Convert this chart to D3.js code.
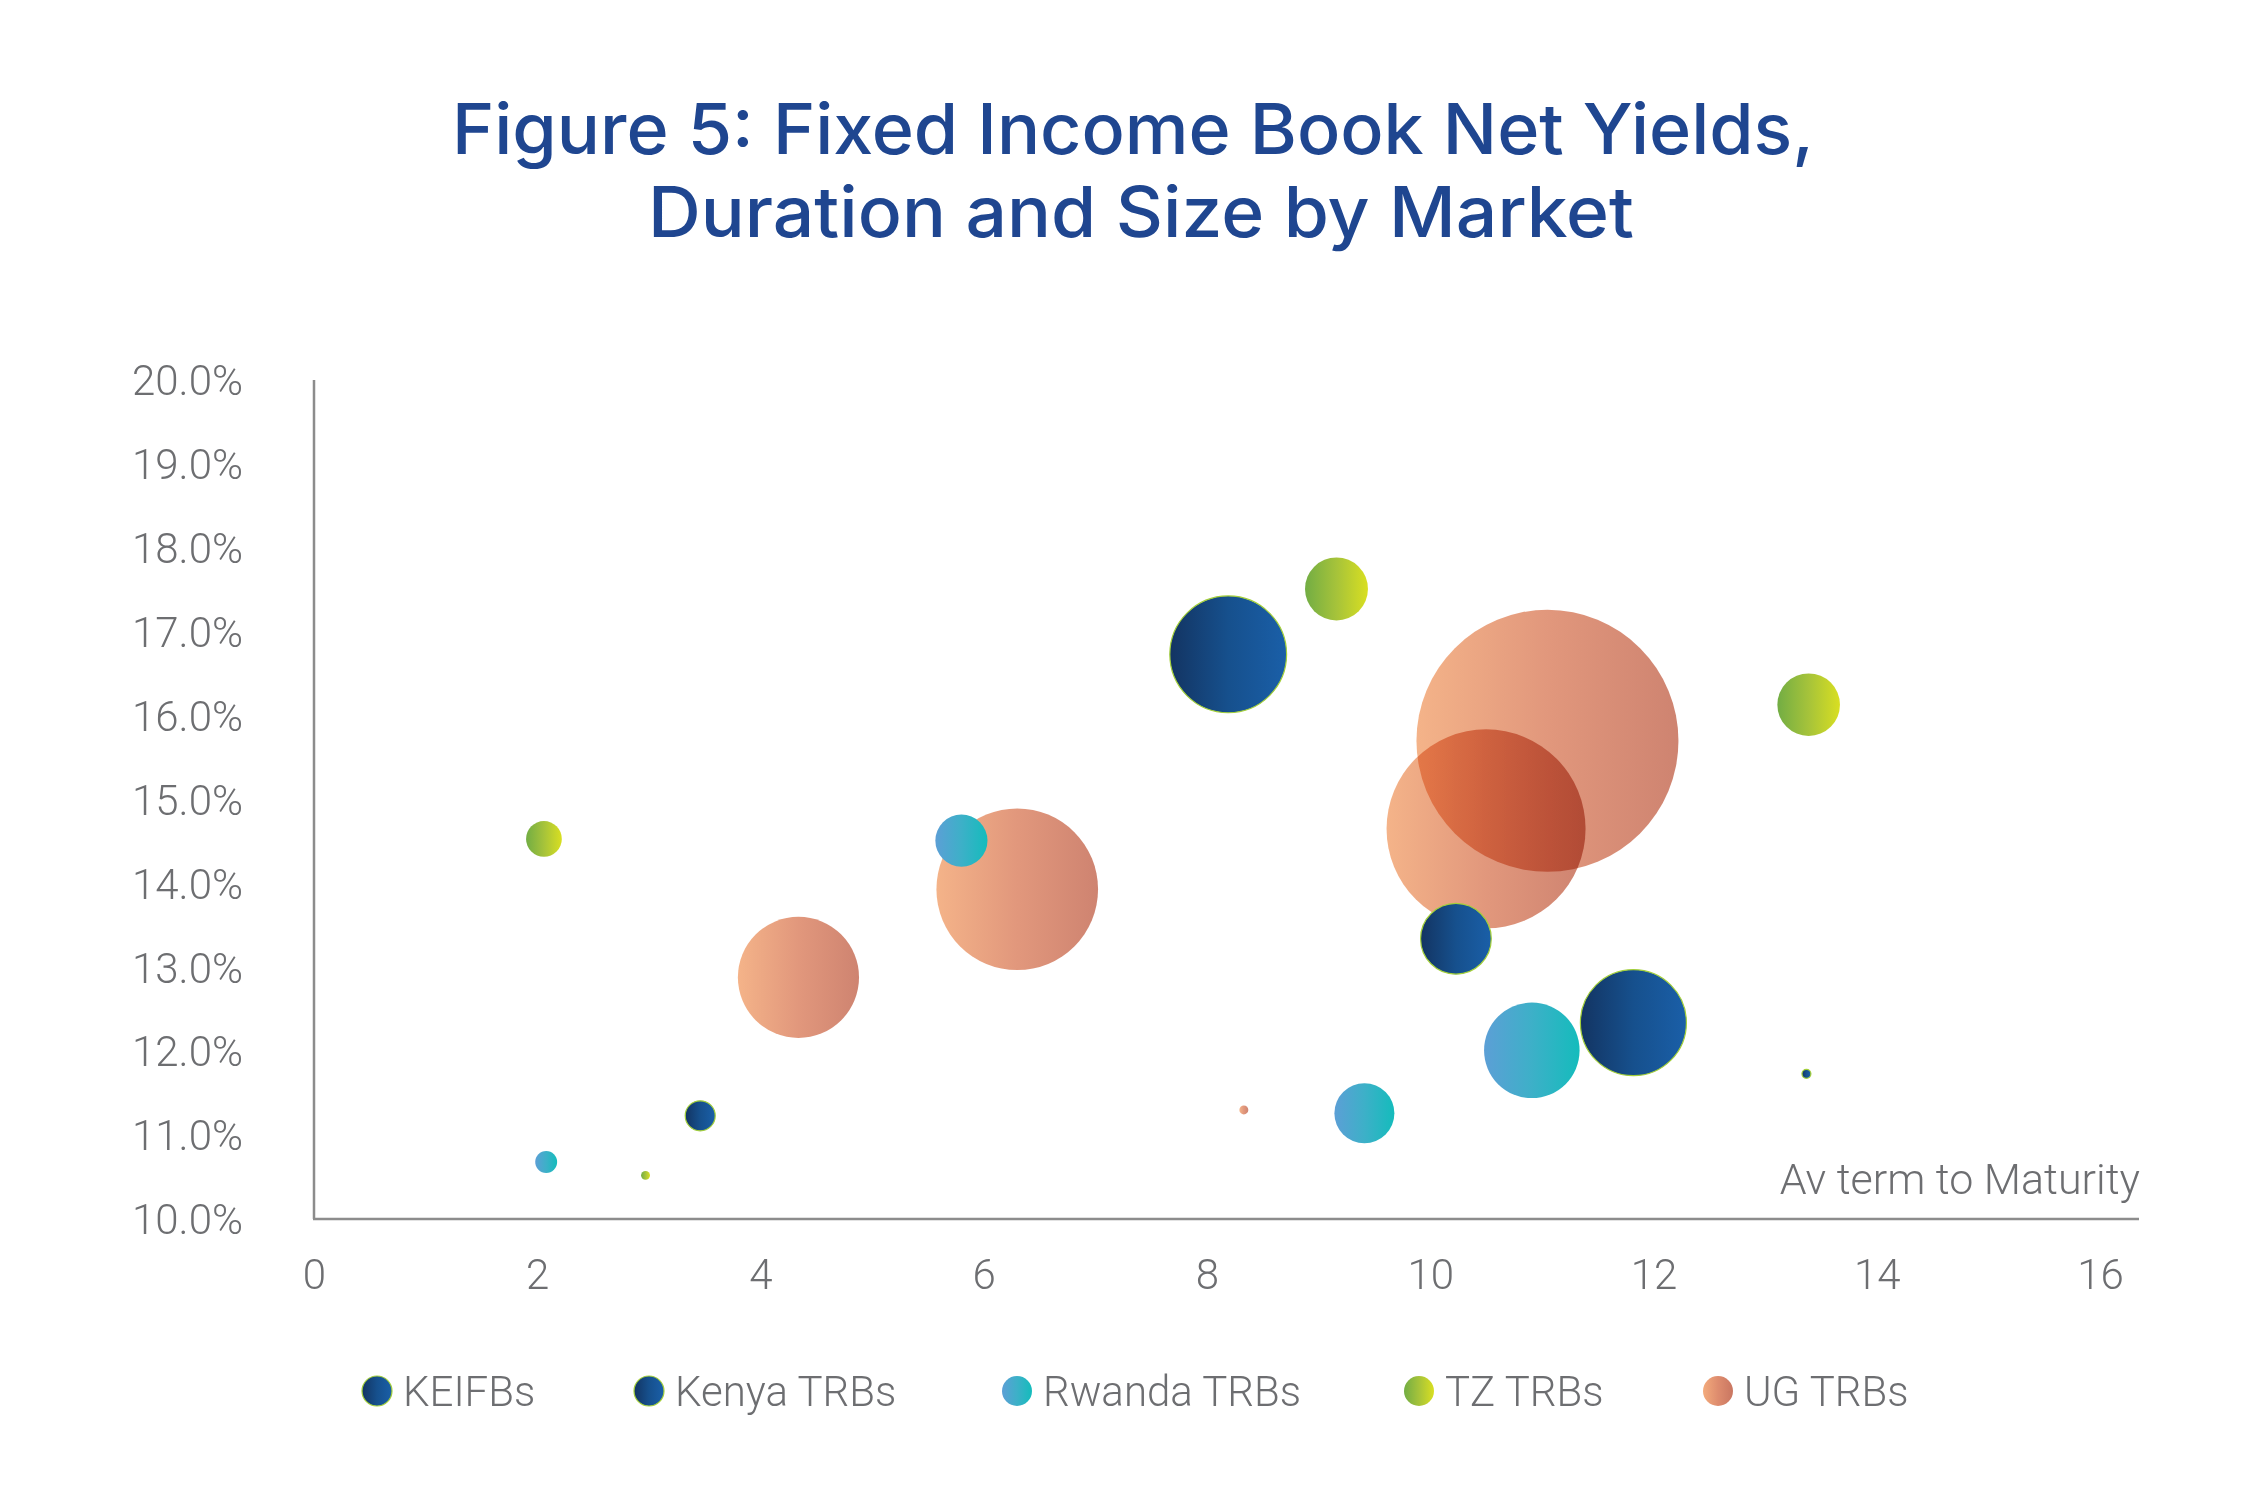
<!DOCTYPE html>
<html>
<head>
<meta charset="utf-8">
<script src="https://cdn.jsdelivr.net/npm/d3@7"></script>
<style>
  html, body { margin: 0; padding: 0; background: #ffffff; }
  svg { display: block; }
</style>
</head>
<body>
<svg id="chart" width="2268" height="1502"></svg>
<script>
// ---------------- DATA ----------------
const titleLines = ["Figure 5: Fixed Income Book Net Yields,", "Duration and Size by Market"];
const seriesNames = ["KEIFBs", "Kenya TRBs", "Rwanda TRBs", "TZ TRBs", "UG TRBs"];
const xTicks = [0, 2, 4, 6, 8, 10, 12, 14, 16];
const yTicks = [10, 11, 12, 13, 14, 15, 16, 17, 18, 19, 20];
const xAxisTitle = "Av term to Maturity";

// term to maturity (years), net yield (%), relative book size
const keifbTerm   = [8.19, 10.23, 11.82];
const keifbYield  = [16.73, 13.34, 12.34];
const keifbSize   = [34.1, 12.5, 28.1];

const kenyaTerm   = [3.46, 13.37];
const kenyaYield  = [11.23, 11.73];
const kenyaSize   = [2.25, 0.2];

const rwandaTerm  = [5.80, 10.91, 9.41, 2.08];
const rwandaYield = [14.51, 12.01, 11.26, 10.68];
const rwandaSize  = [6.8, 22.8, 9.0, 1.2];

const tzTerm      = [9.16, 13.39, 2.06, 2.97];
const tzYield     = [17.51, 16.13, 14.53, 10.52];
const tzSize      = [9.9, 9.8, 3.2, 0.2];

const ugTerm      = [11.05, 10.50, 6.30, 4.34, 8.33];
const ugYield     = [15.70, 14.65, 13.93, 12.88, 11.30];
const ugSize      = [171.6, 99.0, 65.3, 36.7, 0.2];

// ---------------- STYLE ----------------
const gradStops = {
  "KEIFBs":      ["#133462", "#16508d", "#1a5fa8"],
  "Kenya TRBs":  ["#133462", "#16508d", "#1a5fa8"],
  "Rwanda TRBs": ["#5c9fd6", "#3db0c8", "#14bcbc"],
  "TZ TRBs":     ["#72ad44", "#a6c33a", "#d9df21"],
  "UG TRBs":     ["#f3ab7c", "#de8c6e", "#c97661"]
};
const strokeCol = { "KEIFBs": "#a3cf3a", "Kenya TRBs": "#a3cf3a" };

const series = [
  { name: "KEIFBs",      term: keifbTerm,  yld: keifbYield,  size: keifbSize },
  { name: "Kenya TRBs",  term: kenyaTerm,  yld: kenyaYield,  size: kenyaSize },
  { name: "Rwanda TRBs", term: rwandaTerm, yld: rwandaYield, size: rwandaSize },
  { name: "TZ TRBs",     term: tzTerm,     yld: tzYield,     size: tzSize },
  { name: "UG TRBs",     term: ugTerm,     yld: ugYield,     size: ugSize }
];

const textGray = "#6d6e71";
const font = "Roboto, 'Open Sans', sans-serif";
const fw = 300;

const svg = d3.select("#chart");
const defs = svg.append("defs");

seriesNames.forEach((n, i) => {
  const g = defs.append("linearGradient").attr("id", "grad" + i)
    .attr("x1", "0").attr("y1", "0").attr("x2", "1").attr("y2", "0");
  const st = gradStops[n];
  st.forEach((c, j) => g.append("stop").attr("offset", j / (st.length - 1)).attr("stop-color", c));
});

// ---------------- SCALES ----------------
const x = d3.scaleLinear().domain([0, 16]).range([314, 2100]);
const y = d3.scaleLinear().domain([10, 20]).range([1219, 380]);
const maxSize = d3.max(series.flatMap(s => s.size));
const r = d3.scaleSqrt().domain([0, maxSize]).range([0, 131]);

// ---------------- TITLE ----------------
svg.append("text")
  .attr("x", 452).attr("y", 154)
  .attr("textLength", 1362).attr("lengthAdjust", "spacingAndGlyphs")
  .style("font-family", "Inter, 'Open Sans', sans-serif").style("font-weight", 500)
  .style("font-size", "70px").style("fill", "#1f4690")
  .text(titleLines[0]);
svg.append("text")
  .attr("x", 648).attr("y", 237)
  .attr("textLength", 986).attr("lengthAdjust", "spacingAndGlyphs")
  .style("font-family", "Inter, 'Open Sans', sans-serif").style("font-weight", 500)
  .style("font-size", "70px").style("fill", "#1f4690")
  .text(titleLines[1]);

// ---------------- AXES ----------------
const axisCol = "#8c8c8c";
svg.append("line").attr("x1", 314).attr("x2", 314).attr("y1", 380).attr("y2", 1219)
  .attr("stroke", axisCol).attr("stroke-width", 2.5);
svg.append("line").attr("x1", 313).attr("x2", 2139).attr("y1", 1219).attr("y2", 1219)
  .attr("stroke", axisCol).attr("stroke-width", 2.5);

const yAxisG = svg.append("g").attr("transform", "translate(314,0)")
  .call(d3.axisLeft(y).tickValues(yTicks).tickSize(0).tickFormat(d => d.toFixed(1) + "%"));
yAxisG.select(".domain").remove();
yAxisG.selectAll("text")
  .attr("x", 132 - 314).attr("dy", "0.35em")
  .attr("text-anchor", "start")
  .style("font-family", font).style("font-weight", fw).style("font-size", "42px").style("fill", textGray);

const xAxisG = svg.append("g").attr("transform", "translate(0,1219)")
  .call(d3.axisBottom(x).tickValues(xTicks).tickSize(0).tickFormat(d3.format("d")));
xAxisG.select(".domain").remove();
xAxisG.selectAll("text")
  .attr("y", 55).attr("dy", "0.35em")
  .style("font-family", font).style("font-weight", fw).style("font-size", "42px").style("fill", textGray);

svg.append("text")
  .attr("x", 2140).attr("y", 1194).attr("text-anchor", "end")
  .style("font-family", font).style("font-weight", fw).style("font-size", "43px").style("fill", textGray)
  .text(xAxisTitle);

// ---------------- BUBBLES ----------------
const points = series.flatMap((s, si) => s.term.map((t, i) => ({
  name: s.name, si: si, term: t, yld: s.yld[i], size: s.size[i]
})));
const ugPts = points.filter(p => p.name === "UG TRBs").sort((a, b) => b.size - a.size);
const otherPts = points.filter(p => p.name !== "UG TRBs").sort((a, b) => b.size - a.size);

svg.append("g").selectAll("circle").data(ugPts).join("circle")
  .attr("cx", d => x(d.term)).attr("cy", d => y(d.yld)).attr("r", d => r(d.size))
  .attr("fill", d => "url(#grad" + d.si + ")")
  .style("mix-blend-mode", "multiply")
  .attr("fill-opacity", 0.9);

svg.append("g").selectAll("circle").data(otherPts).join("circle")
  .attr("cx", d => x(d.term)).attr("cy", d => y(d.yld)).attr("r", d => r(d.size))
  .attr("fill", d => "url(#grad" + d.si + ")")
  .attr("stroke", d => strokeCol[d.name] || "none")
  .attr("stroke-width", d => strokeCol[d.name] ? 1.2 : 0);

// ---------------- LEGEND ----------------
const legendMarkerX = [377, 649, 1017, 1419, 1718];
const legend = svg.append("g");
seriesNames.forEach((n, i) => {
  legend.append("circle")
    .attr("cx", legendMarkerX[i]).attr("cy", 1391).attr("r", 15)
    .attr("fill", "url(#grad" + i + ")")
    .attr("stroke", strokeCol[n] || "none").attr("stroke-width", strokeCol[n] ? 1.2 : 0);
  legend.append("text")
    .attr("x", legendMarkerX[i] + 26).attr("y", 1391).attr("dy", "0.35em")
    .style("font-family", font).style("font-weight", fw).style("font-size", "42px").style("fill", textGray)
    .text(n);
});
</script>
</body>
</html>
